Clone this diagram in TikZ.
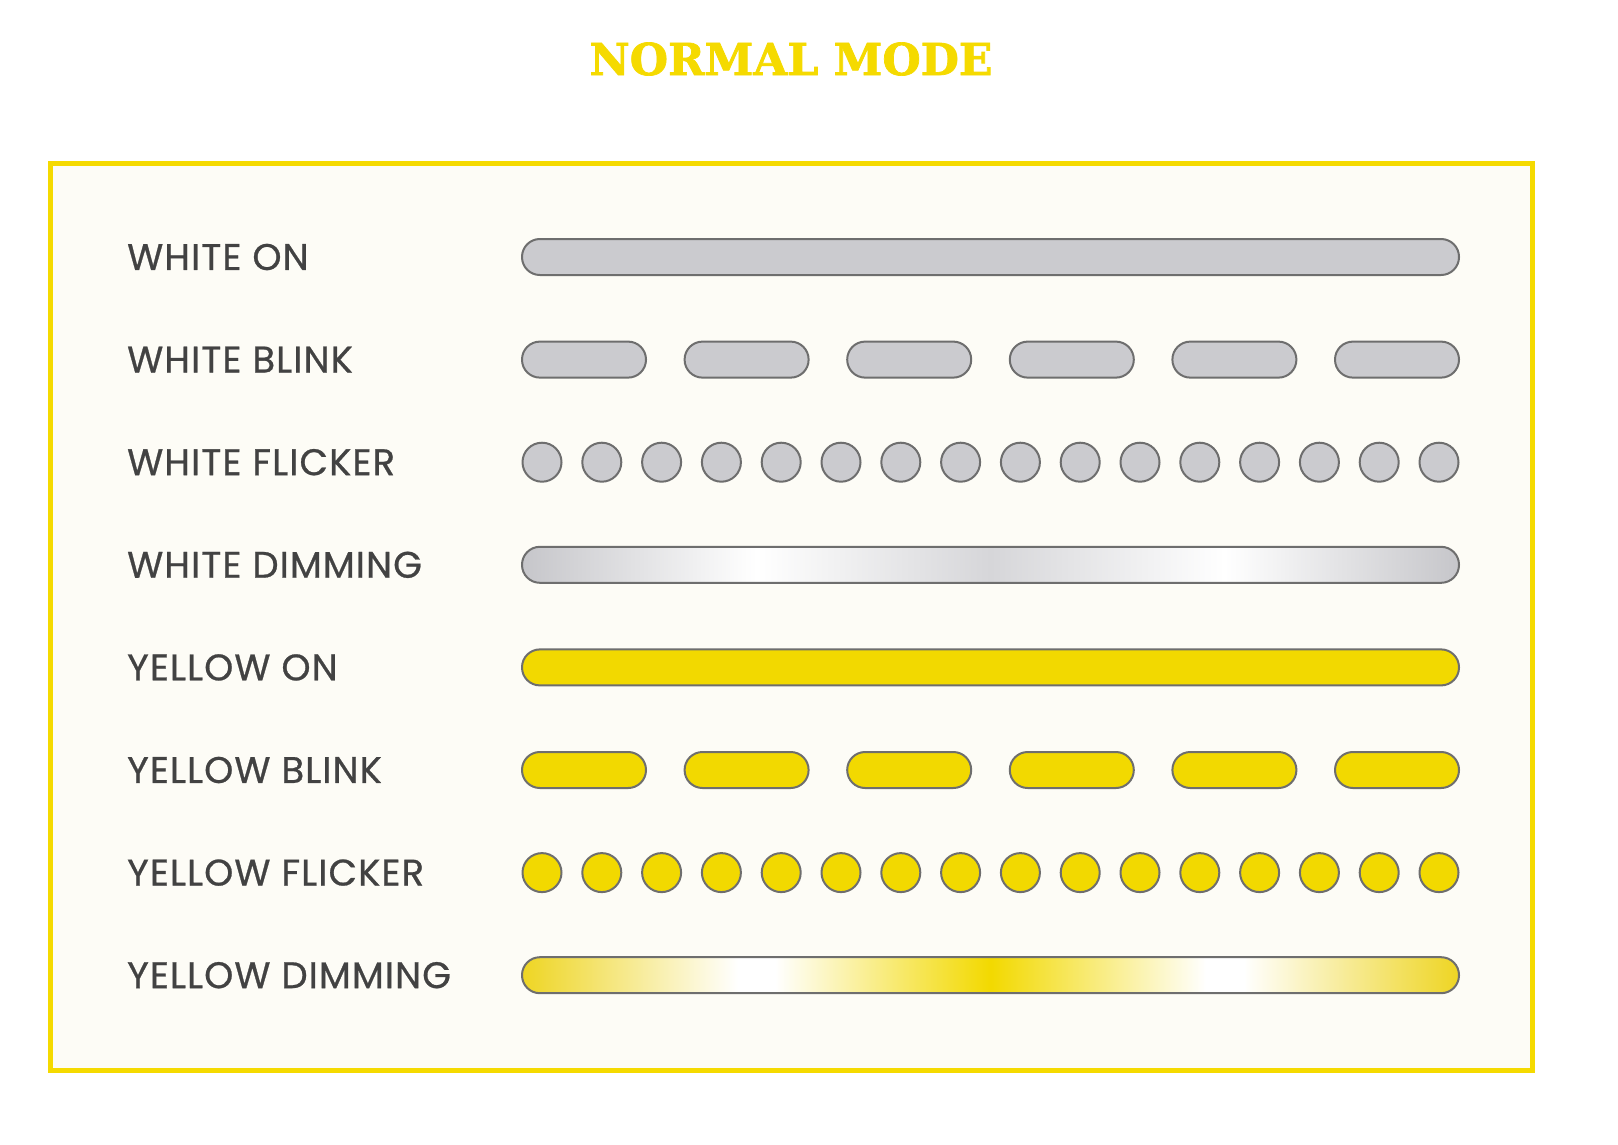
\documentclass[tikz,border=0pt]{standalone}
\usepackage{xcolor}
\usepackage{fontspec}
\usepackage{tikz}
\usetikzlibrary{positioning}
\setmainfont{Poppins}[LetterSpace=3, FakeBold=0.7]
\newfontfamily\titlefont{DejaVu Serif}[FakeBold=1.6]
\definecolor{modeyellow}{RGB}{245,218,0}
\definecolor{ledyellow}{RGB}{242,217,0}
\definecolor{ledgray}{RGB}{203,203,207}
\definecolor{ledline}{RGB}{110,110,110}
\definecolor{labelgray}{RGB}{66,66,66}
\definecolor{panelbg}{RGB}{253,252,246}
\definecolor{dimgray}{RGB}{198,198,202}
\definecolor{dimgraymid}{RGB}{214,214,217}
\definecolor{dimyellow}{RGB}{238,213,35}

% path box goes onto 25bp..75bp
\pgfdeclarehorizontalshading{whitedim}{100bp}{color(0bp)=(dimgray); color(25bp)=(dimgray); color(37.5bp)=(white); color(50bp)=(dimgraymid); color(62.5bp)=(white); color(75bp)=(dimgray); color(100bp)=(dimgray)}
\pgfdeclarehorizontalshading{yellowdim}{100bp}{color(0bp)=(dimyellow); color(25bp)=(dimyellow); color(36.5bp)=(white); color(38.5bp)=(white); color(50bp)=(ledyellow); color(61.5bp)=(white); color(63.5bp)=(white); color(75bp)=(dimyellow); color(100bp)=(dimyellow)}

\begin{document}
\begin{tikzpicture}[x=1pt, y=-1pt,
	lbl/.style={anchor=west, inner sep=0pt, text=labelgray, font=\fontsize{37}{37}\selectfont},
	led/.style={draw=ledline, line width=2pt, rounded corners=17.9pt},
	whiteled/.style={led, fill=ledgray},
	yellowled/.style={led, fill=ledyellow}]
		\pgfmathsetmacro{\barleft}{522}
		\pgfmathsetmacro{\barright}{1459}
		\pgfmathsetmacro{\barh}{36}
		\pgfmathsetmacro{\rowgap}{102.6}
		\fill[white] (0,0) rectangle (1618,1144);
		\useasboundingbox (0,0) rectangle (1618,1144);
		
		\node[font=\titlefont\bfseries\fontsize{44}{44}\selectfont, text=modeyellow] (title) at (791,59) {NORMAL MODE};
		\draw[modeyellow, fill=panelbg, line width=5pt] (50,163) rectangle (1532,1070);
		
		\node[lbl] (whiteon) at (127,257) {WHITE ON};
		\node[lbl] (whiteblink) at (127,257+\rowgap) {WHITE BLINK};
		\node[lbl] (whiteflicker) at (127,257+2*\rowgap) {WHITE FLICKER};
		\node[lbl] (whitedimming) at (127,257+3*\rowgap) {WHITE DIMMING};
		\node[lbl] (yellowon) at (127,257+4*\rowgap) {YELLOW ON};
		\node[lbl] (yellowblink) at (127,257+5*\rowgap) {YELLOW BLINK};
		\node[lbl] (yellowflicker) at (127,257+6*\rowgap) {YELLOW FLICKER};
		\node[lbl] (yellowdimming) at (127,257+7*\rowgap) {YELLOW DIMMING};
		
		% white rows
		\draw[whiteled] (\barleft,257-\barh/2) rectangle (\barright,257+\barh/2);
		\foreach \k in {0,...,5}
			\draw[whiteled] ({\barleft+\k*162.6},257+\rowgap-\barh/2) rectangle ++(124,\barh);
		\foreach \k in {0,...,15}
			\draw[whiteled] ({542+\k*59.8},257+2*\rowgap) circle (19.5);
		\shadedraw[led, shading=whitedim] (\barleft,257+3*\rowgap-\barh/2) rectangle (\barright,257+3*\rowgap+\barh/2);
		
		% yellow rows
		\draw[yellowled] (\barleft,257+4*\rowgap-\barh/2) rectangle (\barright,257+4*\rowgap+\barh/2);
		\foreach \k in {0,...,5}
			\draw[yellowled] ({\barleft+\k*162.6},257+5*\rowgap-\barh/2) rectangle ++(124,\barh);
		\foreach \k in {0,...,15}
			\draw[yellowled] ({542+\k*59.8},257+6*\rowgap) circle (19.5);
		\shadedraw[led, shading=yellowdim] (\barleft,257+7*\rowgap-\barh/2) rectangle (\barright,257+7*\rowgap+\barh/2);
		
		%%\node[lbl] at (127,1100) {TEST};
\end{tikzpicture}
\end{document}
